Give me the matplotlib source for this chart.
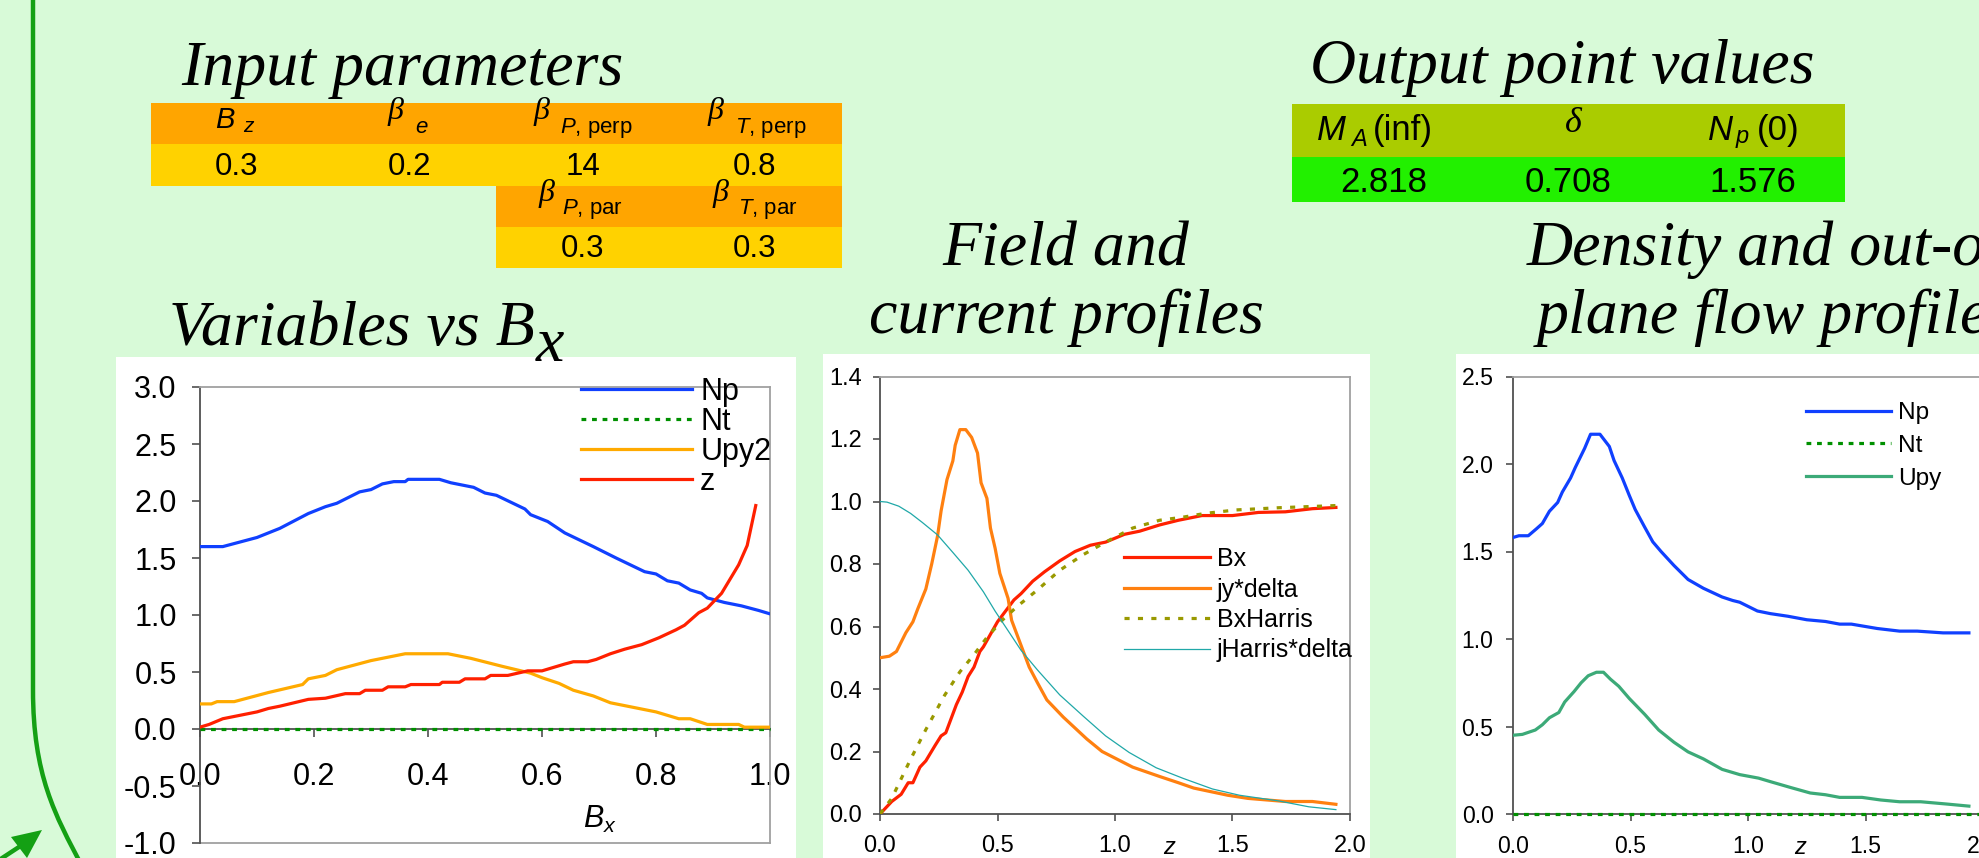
import numpy as np
import matplotlib
matplotlib.use('Agg')
import matplotlib.pyplot as plt
from matplotlib.patches import Rectangle, PathPatch, Polygon
from matplotlib.path import Path
from matplotlib.ticker import FormatStrFormatter

# ---------------- data ----------------
input_row1_values = ['0.3', '0.2', '14', '0.8']
input_row2_values = ['0.3', '0.3']
output_values = ['2.818', '0.708', '1.576']

# Panel 1: variables vs Bx
np_bx = [0, .04, .10, .14, .19, .22, .24, .28, .30, .32, .34, .36, .365, .42, .44, .48, .50, .52,
         .57, .58, .61, .64, .69, .73, .78, .80, .82, .84, .86, .88, .89, .92, .95, .98, 1.0]
np_vals = [1.60, 1.60, 1.68, 1.76, 1.89, 1.95, 1.98, 2.08, 2.10, 2.15, 2.17, 2.17, 2.19, 2.19, 2.16,
           2.12, 2.07, 2.05, 1.93, 1.88, 1.82, 1.72, 1.60, 1.50, 1.38, 1.36, 1.30, 1.28, 1.22, 1.19,
           1.15, 1.11, 1.08, 1.04, 1.01]
nt_bx = [0.0, 1.0]
nt_vals = [0.0, 0.0]
upy2_bx = [0, .02, .03, .06, .12, .18, .19, .22, .24, .27, .30, .36, .435, .475, .53, .58, .60, .63,
           .655, .69, .72, .80, .84, .86, .89, .945, .955, 1.0]
upy2_vals = [.22, .22, .24, .24, .32, .39, .44, .47, .52, .56, .60, .66, .66, .62, .55, .49, .45, .40,
             .34, .29, .23, .15, .09, .09, .04, .04, .016, .016]
z_bx = [0, .016, .04, .10, .12, .14, .19, .22, .255, .28, .29, .32, .33, .36, .37, .42, .425, .455,
        .465, .50, .51, .54, .575, .60, .64, .655, .68, .695, .72, .745, .775, .805, .835, .85, .875,
        .89, .915, .945, .96, .975]
z_vals = [.016, .04, .09, .15, .18, .20, .26, .27, .31, .31, .34, .34, .37, .37, .39, .39, .41, .41,
          .44, .44, .47, .47, .51, .51, .57, .59, .59, .61, .66, .70, .74, .80, .87, .91, 1.02, 1.06,
          1.19, 1.44, 1.61, 1.96]

# Panel 2: field and current profiles
bx_z = [0, .05, .09, .12, .14, .17, .195, .235, .26, .28, .30, .325, .35, .375, .40, .425, .44, .47,
        .50, .53, .57, .60, .65, .70, .765, .83, .895, .96, 1.04, 1.105, 1.19, 1.27, 1.37, 1.50, 1.61,
        1.725, 1.84, 1.94]
bx_vals = [0, .04, .063, .10, .10, .15, .17, .22, .25, .26, .30, .35, .39, .44, .47, .52, .535, .575,
           .615, .645, .685, .705, .745, .775, .81, .84, .86, .87, .895, .905, .925, .94, .955, .955,
           .965, .967, .977, .981]
jy_z = [0, .04, .07, .11, .14, .16, .195, .22, .245, .26, .285, .31, .32, .34, .365, .39, .415, .43,
        .455, .47, .49, .51, .545, .56, .595, .635, .67, .71, .78, .88, .945, 1.01, 1.075, 1.19, 1.27,
        1.335, 1.48, 1.565, 1.725, 1.84, 1.94]
jy_vals = [.50, .505, .52, .58, .615, .655, .72, .80, .89, .97, 1.07, 1.13, 1.18, 1.23, 1.23, 1.205,
           1.155, 1.06, 1.01, .915, .85, .77, .69, .62, .55, .47, .42, .365, .31, .24, .20, .175, .15,
           .12, .10, .083, .06, .05, .04, .04, .031]
bxh_z = [0, .05, .13, .195, .275, .34, .40, .455, .52, .585, .67, .765, .865, .96, 1.075, 1.19, 1.29,
         1.385, 1.515, 1.695, 1.94]
bxh_vals = [0, .05, .175, .27, .38, .455, .51, .565, .62, .665, .717, .78, .83, .87, .915, .94, .95,
            .962, .973, .98, .987]
jh_z = [0, .03, .08, .13, .18, .245, .31, .375, .44, .49, .535, .60, .67, .765, .865, .96, 1.06, 1.175,
        1.29, 1.415, 1.53, 1.695, 1.825, 1.94]
jh_vals = [1.0, .998, .985, .962, .933, .893, .837, .78, .711, .649, .598, .524, .461, .381, .313, .25,
           .197, .148, .114, .08, .06, .042, .023, .014]

# Panel 3: density and out-of-plane flow profiles
n3_z = [0, .025, .065, .10, .125, .155, .19, .21, .245, .265, .305, .33, .37, .41, .43, .465, .495,
        .52, .56, .595, .63, .685, .745, .81, .89, .935, .965, 1.04, 1.095, 1.17, 1.25, 1.33, 1.39,
        1.44, 1.55, 1.645, 1.72, 1.83, 1.94]
n3_vals = [1.58, 1.59, 1.59, 1.63, 1.66, 1.73, 1.78, 1.84, 1.92, 1.98, 2.09, 2.17, 2.17, 2.10, 2.02,
           1.92, 1.82, 1.74, 1.64, 1.555, 1.50, 1.42, 1.34, 1.29, 1.24, 1.22, 1.21, 1.16, 1.145, 1.13,
           1.11, 1.10, 1.085, 1.085, 1.06, 1.045, 1.045, 1.035, 1.035]
nt3_z = [0.0, 2.0]
nt3_vals = [0.0, 0.0]
upy_z = [0, .04, .095, .125, .155, .195, .22, .26, .29, .32, .355, .385, .415, .45, .495, .56, .62,
         .685, .745, .81, .89, .965, 1.045, 1.095, 1.185, 1.265, 1.33, 1.39, 1.485, 1.565, 1.645,
         1.735, 1.845, 1.94]
upy_vals = [.45, .455, .48, .51, .55, .58, .64, .70, .75, .79, .81, .81, .77, .73, .66, .57, .48, .41,
            .355, .315, .255, .225, .205, .185, .15, .12, .11, .095, .095, .08, .07, .07, .057, .045]

# ---------------- figure ----------------
W, H = 1979, 858
BG = '#D8FAD8'
plt.rcParams['axes.unicode_minus'] = False
plt.rcParams['font.family'] = ['Liberation Sans', 'DejaVu Sans']
plt.rcParams['mathtext.fontset'] = 'custom'
plt.rcParams['mathtext.rm'] = 'Liberation Sans'
plt.rcParams['mathtext.it'] = 'Liberation Sans:italic'

fig = plt.figure(figsize=(W / 100, H / 100), dpi=100)
fig.patch.set_facecolor(BG)
bg = fig.add_axes([0, 0, 1, 1], zorder=0)
bg.set_xlim(0, W)
bg.set_ylim(H, 0)
bg.axis('off')

SERIF = 'Liberation Serif'


def axpos(l, r, t, b):
    return [l / W, 1 - b / H, (r - l) / W, (b - t) / H]


# white chart areas
for (x0, x1, y0) in [(116, 796, 357), (823, 1370, 354), (1456, 1990, 354)]:
    bg.add_patch(Rectangle((x0, y0), x1 - x0, H - y0 + 10, facecolor='white', edgecolor='none'))

# green slide decoration
GREEN = '#14A014'
path = Path([(33, -5), (33, 690), (33, 775), (55, 815), (82, 866)],
            [Path.MOVETO, Path.LINETO, Path.CURVE4, Path.CURVE4, Path.CURVE4])
bg.add_patch(PathPatch(path, facecolor='none', edgecolor=GREEN, lw=3.2))
bg.plot([-10, 22], [866, 845], color=GREEN, lw=3.2, solid_capstyle='butt')
bg.add_patch(Polygon([(42, 830), (11, 837), (27, 858)], closed=True, facecolor=GREEN, edgecolor='none'))

# titles
TS = 46
bg.text(181, 85, 'Input parameters', family=SERIF, style='italic', fontsize=TS, va='baseline')
bg.text(1310, 83, 'Output point values', family=SERIF, style='italic', fontsize=TS, va='baseline')
bg.text(1066, 265, 'Field and', family=SERIF, style='italic', fontsize=TS, va='baseline', ha='center')
bg.text(1066, 333, 'current profiles', family=SERIF, style='italic', fontsize=TS, va='baseline', ha='center')
bg.text(1527, 265, 'Density and out-of-', family=SERIF, style='italic', fontsize=TS, va='baseline')
bg.text(1537, 333, 'plane flow profiles', family=SERIF, style='italic', fontsize=TS, va='baseline')
tv = bg.text(169, 345, 'Variables vs B', family=SERIF, style='italic', fontsize=TS, va='baseline')
renderer = fig.canvas.get_renderer()
ext = tv.get_window_extent(renderer)
bg.text(ext.x1 + 1, 361, 'x', family=SERIF, style='italic', fontsize=TS, va='baseline')

# input table
ORANGE = '#FFA500'
YELLOW = '#FFD200'
h1 = Rectangle((151, 103), 691, 41, facecolor=ORANGE, edgecolor='none')
bg.add_patch(h1)
bg.add_patch(Rectangle((151, 144), 691, 42, facecolor=YELLOW, edgecolor='none'))
bg.add_patch(Rectangle((496, 186), 346, 41, facecolor=ORANGE, edgecolor='none'))
bg.add_patch(Rectangle((496, 227), 346, 41, facecolor=YELLOW, edgecolor='none'))

SS = 16
bg.text(215, 128, 'B', style='italic', fontsize=21, va='baseline')
bg.text(243, 132, 'z', style='italic', fontsize=15, va='baseline')
for bx, sx, sub in [(388, 415, '$e$'), (534, 560, '$P$, perp'), (708, 735, '$T$, perp')]:
    t = bg.text(bx, 119, 'β', family=SERIF, style='italic', fontsize=23, va='baseline')
    t.set_clip_path(h1)
    bg.text(sx, 133, sub, fontsize=SS, va='baseline')
for bx, sx, sub in [(539, 562, '$P$, par'), (713, 738, '$T$, par')]:
    bg.text(bx, 201, 'β', family=SERIF, style='italic', fontsize=23, va='baseline')
    bg.text(sx, 214, sub, fontsize=SS, va='baseline')

col_centers_in = [237, 410, 583, 755]
for cx, v in zip(col_centers_in, input_row1_values):
    bg.text(cx, 175, v, fontsize=22.5, ha='center', va='baseline')
for cx, v in zip(col_centers_in[2:], input_row2_values):
    bg.text(cx, 257, v, fontsize=22.5, ha='center', va='baseline')

# output table
bg.add_patch(Rectangle((1292, 104), 553, 53, facecolor='#AACC00', edgecolor='none'))
bg.add_patch(Rectangle((1292, 157), 553, 45, facecolor='#22F000', edgecolor='none'))
bg.text(1317, 140, 'M', style='italic', fontsize=25, va='baseline')
bg.text(1351, 146, 'A', style='italic', fontsize=17, va='baseline')
bg.text(1373, 140, '(inf)', fontsize=25, va='baseline')
bg.text(1573, 132, 'δ', family=SERIF, style='italic', fontsize=26, va='baseline', ha='center')
bg.text(1708, 140, 'N', style='italic', fontsize=25, va='baseline')
bg.text(1736, 143, 'p', style='italic', fontsize=17, va='baseline')
bg.text(1757, 140, '(0)', fontsize=25, va='baseline')
for cx, v in zip([1384, 1568, 1753], output_values):
    bg.text(cx, 192, v, fontsize=25, ha='center', va='baseline')


def style_axes(ax, labelsize, pad_x, pad_y, tlen):
    ax.set_facecolor('none')
    for s in ['top', 'right']:
        ax.spines[s].set_color('#A0A0A0')
        ax.spines[s].set_linewidth(1.3)
    for s in ['left', 'bottom']:
        ax.spines[s].set_color('#505050')
        ax.spines[s].set_linewidth(1.3)
    ax.tick_params(direction='out', length=tlen, width=1.2, color='#505050', labelcolor='black',
                   labelsize=labelsize)
    ax.tick_params(axis='x', pad=pad_x)
    ax.tick_params(axis='y', pad=pad_y)
    ax.xaxis.set_major_formatter(FormatStrFormatter('%.1f'))
    ax.yaxis.set_major_formatter(FormatStrFormatter('%.1f'))


def add_legend(ax, fs, x_left, y_top, hl, htp, ls):
    ax.legend(loc='upper left', bbox_to_anchor=(x_left / W, 1 - y_top / H),
              bbox_transform=fig.transFigure, frameon=False, fontsize=fs, handlelength=hl,
              handletextpad=htp, labelspacing=ls, borderpad=0, borderaxespad=0)


# ---- panel 1 ----
ax1 = fig.add_axes(axpos(200, 770, 387, 843), zorder=1)
ax1.plot(np_bx, np_vals, color='#1040FF', lw=2.3, label='Np', zorder=4)
ax1.plot(nt_bx, nt_vals, color='#009000', lw=2.3, ls=(0, (1.5, 1.8)), label='Nt', zorder=4, clip_on=False)
ax1.plot(upy2_bx, upy2_vals, color='#FFAA00', lw=2.3, label='Upy2', zorder=4)
ax1.plot(z_bx, z_vals, color='#FF2000', lw=2.3, label='z', zorder=4)
ax1.set_xlim(0, 1)
ax1.set_ylim(-1, 3)
ax1.set_xticks(np.arange(0, 1.01, 0.2))
ax1.set_yticks(np.arange(-1, 3.01, 0.5))
style_axes(ax1, 22, 18, 11, 5.8)
ax1.spines['bottom'].set_position(('data', 0))
ax1.axhline(-1, color='#A0A0A0', lw=1.3, clip_on=False, zorder=2)
add_legend(ax1, 22, 581, 377, 3.64, 0.26, 0.0)
bg.text(600, 828, '$B_x$', fontsize=22, ha='center', va='baseline')

# ---- panel 2 ----
ax2 = fig.add_axes(axpos(880, 1350, 376.5, 814), zorder=1)
ax2.plot(bx_z, bx_vals, color='#FF2000', lw=2.3, label='Bx', zorder=4)
ax2.plot(jy_z, jy_vals, color='#FF8010', lw=2.3, label='jy*delta', zorder=4)
ax2.plot(bxh_z, bxh_vals, color='#999900', lw=2.3, ls=(0, (1.6, 2.6)), label='BxHarris', zorder=4)
ax2.plot(jh_z, jh_vals, color='#20A8A8', lw=0.9, label='jHarris*delta', zorder=4)
ax2.set_xlim(0, 2)
ax2.set_ylim(0, 1.4)
ax2.set_xticks(np.arange(0, 2.01, 0.5))
ax2.set_yticks(np.arange(0, 1.41, 0.2))
style_axes(ax2, 17, 10, 8, 5)
add_legend(ax2, 18, 1124, 547, 3.44, 0.28, 0.26)
bg.text(1169, 854, 'z', style='italic', fontsize=17, ha='center', va='baseline')

# ---- panel 3 ----
ax3 = fig.add_axes(axpos(1513, 1983, 376.5, 814), zorder=1)
ax3.plot(n3_z, n3_vals, color='#1040FF', lw=2.3, label='Np', zorder=4)
ax3.plot(nt3_z, nt3_vals, color='#009000', lw=2.3, ls=(0, (1.5, 1.8)), label='Nt', zorder=4, clip_on=False)
ax3.plot(upy_z, upy_vals, color='#3CAA78', lw=2.3, label='Upy', zorder=4)
ax3.set_xlim(0, 2)
ax3.set_ylim(0, 2.5)
ax3.set_xticks(np.arange(0, 2.01, 0.5))
ax3.set_yticks(np.arange(0, 2.51, 0.5))
style_axes(ax3, 16.6, 10, 9, 5)
add_legend(ax3, 17.6, 1806, 402, 3.48, 0.28, 0.44)
bg.text(1800, 854, 'z', style='italic', fontsize=17, ha='center', va='baseline')

fig.savefig('out.png', dpi=100, facecolor=BG)
